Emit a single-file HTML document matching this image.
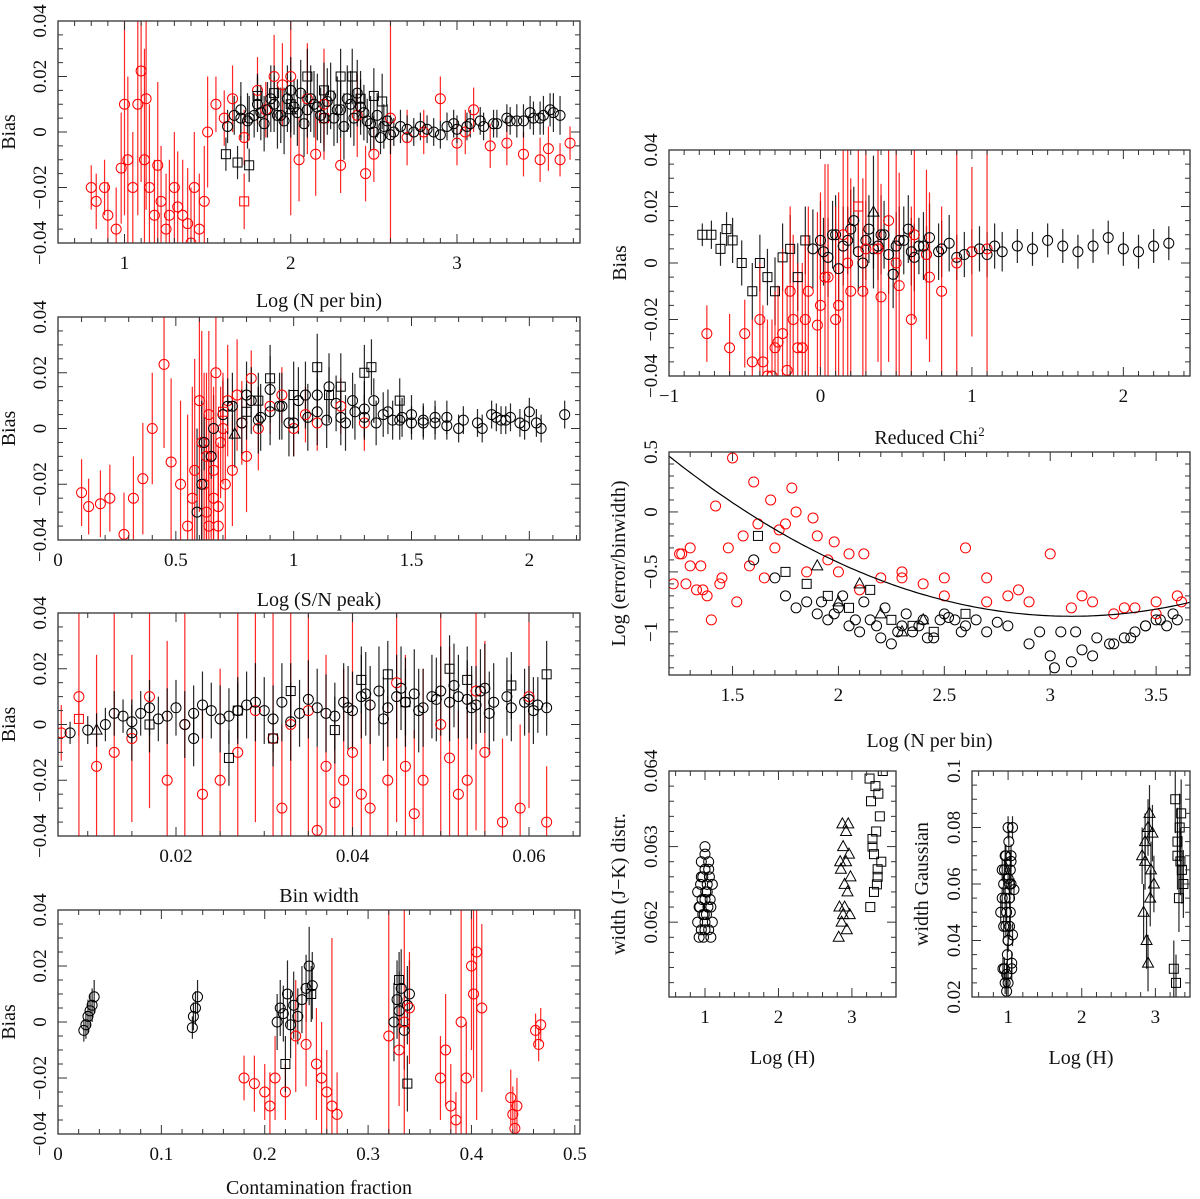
<!DOCTYPE html>
<html><head><meta charset="utf-8"><style>
html,body{margin:0;padding:0;background:#fff;width:1200px;height:1199px;overflow:hidden}
svg{display:block}
svg text{font-family:"Liberation Serif",serif;fill:#111}
</style></head><body>
<svg id="fig" width="1200" height="1199" xmlns="http://www.w3.org/2000/svg"></svg>
<script>
// ---------- DATA ----------
// panel 1: Bias vs Log(N per bin)
const p1x=[0.8,0.83,0.88,0.9,0.95,0.98,1.0,1.02,1.05,1.08,1.1,1.12,1.13,1.15,1.18,1.2,1.22,1.25,1.27,1.3,1.32,1.35,1.38,1.4,1.42,1.45,1.48,1.5,1.55,1.6,1.65,1.72,1.8,1.85,1.9,1.95,2.0,2.05,2.1,2.15,2.2,2.3,2.4,2.45,2.5,2.6,2.7,2.8,2.9,3.0,3.05,3.1,3.2,3.3,3.4,3.5,3.55,3.62,3.68,
1.62,1.66,1.7,1.75,1.78,1.82,1.86,1.9,1.94,1.98,2.02,2.06,2.1,2.14,2.18,2.22,2.26,2.3,2.34,2.38,2.42,2.46,2.5,2.54,2.58,2.62,2.7,2.78,2.86,2.94,3.0,3.08,3.16,3.24,3.32,3.4,3.46,3.52,3.58,3.62,
1.61,1.68,1.75,1.8,1.9,2.0,2.1,2.2,2.3,2.37,2.42,2.5,2.55,1.72,2.0,2.2];
const p1y=[-0.02,-0.025,-0.02,-0.03,-0.035,-0.013,0.01,-0.01,-0.02,0.01,0.022,-0.01,0.012,-0.02,-0.03,-0.012,-0.025,-0.035,-0.03,-0.02,-0.027,-0.03,-0.033,-0.04,-0.02,-0.035,-0.025,0.0,0.01,0.005,0.012,-0.002,0.015,0.008,0.02,0.017,0.02,-0.01,0.012,-0.008,0.01,-0.012,0.006,-0.015,-0.008,0.005,-0.002,0.0,0.012,-0.004,0.0,0.008,-0.005,-0.004,-0.008,-0.01,-0.006,-0.01,-0.004,
0.002,0.006,0.005,0.005,0.006,0.007,0.008,0.01,0.006,0.012,0.009,0.014,0.008,0.01,0.006,0.011,0.005,0.008,0.012,0.005,0.009,0.004,0.0,-0.002,0.004,0.0,0.001,0.002,0.0,0.002,0.001,0.003,0.002,0.003,0.004,0.004,0.005,0.006,0.007,0.006,
-0.008,-0.011,-0.012,0.013,0.014,0.01,0.02,0.015,0.02,0.02,0.012,0.013,0.011,-0.025,0.008,0.005];
const p1e=[0.008,0.01,0.01,0.012,0.015,0.02,0.04,0.03,0.02,0.04,0.04,0.04,0.04,0.03,0.02,0.03,0.02,0.02,0.02,0.02,0.02,0.02,0.02,0.02,0.02,0.02,0.02,0.02,0.01,0.01,0.012,0.01,0.012,0.01,0.015,0.015,0.05,0.015,0.02,0.015,0.02,0.01,0.015,0.01,0.01,0.05,0.01,0.008,0.008,0.008,0.008,0.008,0.008,0.008,0.008,0.008,0.008,0.006,0.006,
0.006,0.007,0.008,0.008,0.008,0.01,0.01,0.01,0.01,0.012,0.01,0.012,0.01,0.012,0.01,0.012,0.01,0.01,0.012,0.01,0.01,0.008,0.006,0.006,0.006,0.005,0.005,0.005,0.005,0.005,0.005,0.005,0.005,0.005,0.005,0.006,0.006,0.007,0.007,0.007,
0.006,0.006,0.006,0.008,0.01,0.01,0.01,0.01,0.01,0.01,0.01,0.01,0.01,0.01,0.01,0.01];
const p1s=("rc,".repeat(59)+"kc,".repeat(40)+"ks,".repeat(13)+"rs,kt,rs").split(",");
const p1xb=[1.7,1.74,1.8,1.84,1.88,1.92,1.96,2.0,2.04,2.08,2.12,2.16,2.2,2.24,2.28,2.32,2.36,2.4,2.44,2.48,2.52,2.56,2.6,2.66,2.74,2.82,2.9,2.98,3.06,3.14,3.22,3.3,3.36,3.44,3.5,3.56];
const p1yb=[0.008,0.004,0.01,0.003,0.012,0.006,0.004,0.015,0.007,0.003,0.012,0.009,0.005,0.013,0.008,0.002,0.01,0.014,0.007,0.003,0.006,0.002,-0.001,0.002,0.0,0.001,-0.001,0.003,0.002,0.004,0.003,0.005,0.004,0.007,0.005,0.008];
const p1eb=[0.01,0.01,0.01,0.01,0.012,0.012,0.012,0.012,0.012,0.012,0.012,0.012,0.012,0.012,0.012,0.012,0.012,0.012,0.01,0.01,0.008,0.008,0.007,0.006,0.005,0.005,0.005,0.005,0.005,0.005,0.005,0.005,0.006,0.006,0.006,0.006];
const p1sb=("kc,".repeat(35)+"kc").split(",");

// panel 2: Bias vs Log(S/N peak)
const p2x=[0.1,0.13,0.18,0.22,0.28,0.32,0.36,0.4,0.45,0.48,0.52,0.55,0.57,0.58,0.6,0.61,0.62,0.63,0.64,0.65,0.66,0.67,0.68,0.7,0.72,0.74,0.76,0.78,0.8,0.82,0.85,0.9,0.95,1.0,1.05,1.1,1.2,1.3,
0.62,0.66,0.7,0.74,0.78,0.82,0.86,0.9,0.94,0.98,1.02,1.06,1.1,1.14,1.18,1.22,1.26,1.3,1.34,1.38,1.42,1.46,1.5,1.55,1.6,1.65,1.7,1.78,1.84,1.88,1.92,1.96,2.0,2.05,2.15,
0.65,0.72,0.8,0.9,1.0,1.1,1.2,1.3,1.33,1.45,0.85,1.15];
const p2y=[-0.023,-0.028,-0.027,-0.025,-0.038,-0.025,-0.018,0.0,0.023,-0.012,-0.02,-0.035,-0.025,-0.015,0.01,-0.005,-0.02,-0.03,0.005,-0.01,-0.025,0.02,-0.035,0.0,0.01,-0.015,0.012,0.002,-0.01,0.018,0.0,0.008,0.012,0.0,0.005,0.002,0.008,0.002,
-0.005,0.0,0.005,0.008,0.002,0.01,0.004,0.006,0.008,0.002,0.01,0.004,0.012,0.003,0.009,0.002,0.006,0.004,0.01,0.005,0.003,0.004,0.002,0.003,0.002,0.004,0.0,0.002,0.005,0.003,0.004,0.002,0.006,0.0,0.005,
-0.01,0.008,0.006,0.018,0.012,0.022,0.015,0.02,0.022,0.01,0.01,0.012];
const p2e=[0.012,0.01,0.012,0.012,0.015,0.015,0.02,0.02,0.03,0.03,0.03,0.04,0.04,0.04,0.04,0.04,0.04,0.04,0.03,0.03,0.03,0.03,0.03,0.02,0.02,0.02,0.02,0.015,0.02,0.01,0.015,0.01,0.01,0.01,0.01,0.01,0.01,0.01,
0.01,0.012,0.012,0.012,0.012,0.012,0.012,0.012,0.012,0.012,0.012,0.012,0.012,0.01,0.01,0.01,0.01,0.008,0.008,0.008,0.007,0.007,0.006,0.006,0.006,0.006,0.005,0.005,0.005,0.005,0.005,0.005,0.005,0.005,0.005,
0.008,0.01,0.01,0.012,0.012,0.012,0.012,0.01,0.01,0.008,0.01,0.01];
const p2s=("rc,".repeat(38)+"kc,".repeat(37)+"ks,".repeat(10)+"rs,kt").split(",");
const p2xb=[0.7,0.75,0.8,0.85,0.9,0.95,1.0,1.05,1.1,1.15,1.2,1.25,1.3,1.35,1.4,1.45,1.5,1.55,1.6,1.65,1.72,1.8,1.86,1.9,1.98,2.03,0.59,0.61,0.63,0.64,0.66,0.68,0.69,0.71];
const p2yb=[0.006,-0.002,0.012,0.003,0.014,0.008,0.002,0.012,0.006,0.015,0.004,0.01,0.007,0.002,0.006,0.003,0.005,0.002,0.004,0.001,0.003,0.0,0.004,0.003,0.001,0.002,-0.03,-0.02,-0.01,-0.035,-0.015,-0.028,-0.005,-0.02];
const p2eb=[0.012,0.012,0.012,0.012,0.012,0.012,0.012,0.012,0.012,0.012,0.01,0.01,0.01,0.008,0.008,0.007,0.007,0.006,0.006,0.005,0.005,0.005,0.005,0.005,0.005,0.005,0.03,0.03,0.03,0.03,0.03,0.02,0.02,0.02];
const p2sb=("kc,".repeat(26)+"rc,".repeat(7)+"rc").split(",");

// panel 3: Bias vs Bin width
const p3x=[0.007,0.009,0.011,0.013,0.015,0.017,0.019,0.021,0.023,0.025,0.027,0.029,0.031,0.032,0.033,0.035,0.036,0.037,0.038,0.039,0.040,0.041,0.042,0.044,0.045,0.046,0.047,0.048,0.05,0.051,0.052,0.053,0.054,0.055,0.057,0.059,0.06,0.062,
0.008,0.01,0.012,0.014,0.016,0.018,0.02,0.022,0.024,0.026,0.028,0.03,0.031,0.032,0.034,0.036,0.038,0.039,0.04,0.041,0.042,0.043,0.044,0.045,0.046,0.047,0.048,0.049,0.05,0.051,0.052,0.053,0.054,0.055,0.056,0.058,0.06,0.061,0.062,
0.015,0.022,0.026,0.031,0.033,0.038,0.041,0.044,0.046,0.051,0.053,0.058,0.062,0.017,0.027];
const p3y=[-0.003,0.01,-0.015,-0.01,-0.005,0.01,-0.02,0.0,-0.025,-0.02,-0.01,0.005,-0.005,-0.03,0.0,0.005,-0.038,-0.015,-0.028,-0.02,-0.01,-0.025,-0.03,-0.02,0.015,-0.015,-0.032,-0.02,0.0,-0.012,-0.025,-0.02,0.012,-0.01,-0.035,-0.03,0.01,-0.035,
-0.003,-0.002,0.0,0.003,0.004,0.002,0.006,0.004,0.005,0.003,0.007,0.005,0.002,0.008,0.004,0.006,0.003,0.008,0.005,0.01,0.007,0.012,0.006,0.01,0.008,0.011,0.006,0.01,0.012,0.008,0.01,0.009,0.007,0.013,0.008,0.006,0.009,0.007,0.006,
-0.003,-0.005,-0.012,-0.005,0.012,-0.002,0.016,0.018,0.008,0.02,0.016,0.014,0.018,0.0,0.005];
const p3e=[0.01,0.05,0.04,0.05,0.03,0.04,0.05,0.04,0.03,0.04,0.05,0.04,0.05,0.03,0.04,0.05,0.03,0.04,0.03,0.04,0.05,0.03,0.04,0.03,0.05,0.04,0.03,0.04,0.05,0.04,0.03,0.04,0.05,0.04,0.03,0.03,0.04,0.02,
0.004,0.005,0.006,0.006,0.008,0.008,0.01,0.01,0.01,0.01,0.012,0.012,0.012,0.014,0.012,0.014,0.012,0.014,0.014,0.015,0.014,0.016,0.014,0.015,0.016,0.016,0.014,0.015,0.016,0.014,0.015,0.014,0.014,0.016,0.014,0.012,0.012,0.01,0.01,
0.01,0.01,0.01,0.01,0.01,0.012,0.012,0.012,0.012,0.012,0.012,0.012,0.012,0.01,0.01];
const p3s=("rc,".repeat(38)+"kc,".repeat(41)+"ks,".repeat(13)+"rs,kt").split(",");
const p3xb=[0.009,0.011,0.013,0.015,0.017,0.019,0.021,0.023,0.025,0.027,0.029,0.033,0.035,0.037,0.0395,0.0415,0.0435,0.0455,0.0475,0.0495,0.0515,0.0535,0.0545,0.0555,0.0575,0.0595,0.0605];
const p3yb=[0.002,-0.002,0.004,0.001,0.006,0.003,0.0,0.007,0.002,0.005,0.008,0.001,0.009,0.004,0.006,0.011,0.002,0.013,0.005,0.009,0.014,0.006,0.012,0.004,0.01,0.008,0.005];
const p3eb=[0.006,0.006,0.008,0.008,0.01,0.01,0.012,0.012,0.012,0.012,0.014,0.014,0.014,0.014,0.015,0.015,0.015,0.015,0.015,0.015,0.015,0.015,0.015,0.015,0.014,0.012,0.012];
const p3sb=("kc,".repeat(26)+"kc").split(",");

// panel 4: Bias vs Contamination fraction
const p4x=[0.025,0.027,0.029,0.031,0.033,0.035,0.13,0.131,0.133,0.135,0.212,0.215,0.218,0.222,0.225,0.228,0.232,0.236,0.24,0.243,0.246,0.325,0.328,0.33,0.332,0.335,0.338,0.34,
0.18,0.19,0.2,0.205,0.21,0.22,0.23,0.24,0.25,0.255,0.26,0.265,0.27,0.32,0.33,0.335,0.34,0.37,0.375,0.38,0.385,0.39,0.395,0.4,0.402,0.405,0.41,0.438,0.44,0.442,0.444,0.462,0.465,0.467,
0.22,0.245,0.33,0.338];
const p4y=[-0.003,-0.001,0.002,0.004,0.006,0.009,-0.002,0.002,0.005,0.009,0.0,0.005,0.003,0.01,-0.001,0.006,0.002,0.008,0.012,0.02,0.013,0.0,0.008,0.004,0.012,-0.003,0.006,0.01,
-0.02,-0.022,-0.025,-0.03,-0.02,-0.025,-0.005,-0.008,-0.015,-0.02,-0.025,-0.03,-0.033,-0.005,-0.01,0.0,0.005,-0.02,-0.01,-0.03,-0.035,0.0,-0.02,0.02,0.01,0.025,0.005,-0.027,-0.033,-0.038,-0.03,-0.003,-0.008,-0.001,
-0.015,0.01,0.015,-0.022];
const p4e=[0.004,0.005,0.006,0.006,0.006,0.006,0.004,0.005,0.006,0.006,0.01,0.01,0.01,0.012,0.012,0.012,0.01,0.012,0.012,0.014,0.012,0.014,0.014,0.014,0.014,0.014,0.014,0.012,
0.008,0.01,0.01,0.012,0.015,0.01,0.02,0.015,0.02,0.02,0.015,0.06,0.015,0.05,0.02,0.06,0.02,0.015,0.02,0.015,0.01,0.04,0.02,0.03,0.03,0.06,0.03,0.01,0.01,0.01,0.01,0.006,0.006,0.006,
0.01,0.01,0.01,0.01];
const p4s=("kc,".repeat(28)+"rc,".repeat(34)+"ks,ks,ks,ks").split(",");

// panel A: Bias vs Reduced Chi^2
const pAx=[-0.78,-0.72,-0.66,-0.62,-0.58,-0.52,-0.45,-0.4,-0.35,-0.3,-0.25,-0.2,-0.15,-0.1,
-0.05,0.0,0.05,0.1,0.15,0.2,0.25,0.3,0.35,0.4,0.45,0.5,0.55,0.6,0.65,0.7,0.8,0.9,1.0,1.1,1.2,1.3,1.4,1.5,1.6,1.7,1.8,1.9,2.0,2.1,2.2,2.3,
-0.75,-0.6,-0.5,-0.45,-0.4,-0.35,-0.3,-0.25,-0.2,-0.15,-0.1,0.0,0.05,0.1,0.15,0.2,0.3,0.4,0.45,0.5,0.6,0.7,0.8,0.9,1.0,1.1,0.25,0.35];
const pAy=[0.01,0.01,0.005,0.012,0.008,0.0,-0.01,0.0,-0.005,-0.01,0.002,0.005,-0.005,0.008,
0.005,0.008,0.002,0.01,0.006,0.012,0.004,0.008,0.005,0.01,0.003,0.006,0.008,0.004,0.006,0.003,0.005,0.002,0.004,0.003,0.004,0.006,0.005,0.008,0.006,0.004,0.006,0.009,0.005,0.004,0.006,0.007,
-0.025,-0.03,-0.025,-0.035,-0.02,-0.04,-0.03,-0.025,-0.01,-0.03,-0.02,-0.015,-0.005,-0.02,0.01,-0.01,0.005,-0.012,0.015,0.0,-0.02,0.003,-0.01,0.0,0.004,0.005,0.02,0.018];
const pAe=[0.004,0.005,0.006,0.006,0.008,0.008,0.01,0.01,0.01,0.012,0.012,0.012,0.012,0.012,
0.014,0.014,0.014,0.014,0.014,0.014,0.014,0.014,0.014,0.014,0.014,0.012,0.012,0.012,0.01,0.01,0.01,0.008,0.008,0.008,0.007,0.006,0.006,0.006,0.006,0.006,0.006,0.006,0.006,0.006,0.006,0.006,
0.01,0.012,0.012,0.015,0.02,0.02,0.02,0.03,0.03,0.03,0.03,0.04,0.04,0.04,0.05,0.04,0.05,0.04,0.05,0.04,0.04,0.03,0.03,0.05,0.03,0.05,0.02,0.02];
const pAs=("ks,".repeat(14)+"kc,".repeat(32)+"rc,".repeat(26)+"rs,kt").split(",");
const pAxb=[0.02,0.08,0.12,0.18,0.22,0.28,0.32,0.38,0.42,0.48,0.52,0.58,0.62,0.68,0.72,0.78,0.85,0.95,1.05,1.15,
-0.38,-0.32,-0.28,-0.22,-0.18,-0.12,-0.08,-0.02,0.03,0.12,0.18,0.28,0.38,0.52,0.62,0.72];
const pAyb=[0.004,0.01,-0.002,0.008,0.015,0.0,0.012,0.006,0.01,-0.004,0.008,0.012,0.002,0.006,0.009,0.004,0.007,0.003,0.005,0.006,
-0.035,-0.04,-0.028,-0.038,-0.02,-0.03,-0.01,-0.022,-0.005,-0.015,0.0,-0.01,0.005,-0.008,0.01,-0.005];
const pAeb=[0.012,0.012,0.012,0.012,0.012,0.012,0.012,0.012,0.012,0.012,0.012,0.012,0.012,0.012,0.012,0.01,0.01,0.008,0.008,0.008,
0.02,0.02,0.02,0.03,0.03,0.03,0.03,0.04,0.04,0.04,0.04,0.04,0.04,0.04,0.03,0.03];
const pAsb=("kc,".repeat(20)+"rc,".repeat(15)+"rc").split(",");

// panel B: Log(error/binwidth) vs Log(N per bin)
const pBx=[1.25,1.28,1.3,1.33,1.35,1.38,1.4,1.42,1.45,1.48,1.5,1.52,1.55,1.58,1.6,1.65,1.68,1.7,1.75,1.8,1.85,1.9,1.95,2.0,2.05,2.1,2.2,2.3,2.4,2.5,2.6,2.7,2.8,2.9,3.0,3.1,3.2,3.3,3.4,3.5,3.6,
1.6,1.7,1.75,1.8,1.85,1.9,1.95,2.0,2.05,2.1,2.15,2.2,2.25,2.3,2.35,2.4,2.45,2.5,2.55,2.6,2.7,2.8,2.9,2.95,3.0,3.05,3.1,3.15,3.2,3.3,3.35,3.4,3.45,3.5,3.55,3.6,
1.62,1.75,1.85,1.95,2.05,2.15,2.25,2.35,2.45,2.6,1.9,2.0,2.1,2.2,2.3,2.4,
1.92,1.98,2.02,2.08,2.12,2.18,2.22,2.28,2.32,2.38,2.42,2.48,2.52,2.58,2.65,2.75,3.02,3.12,3.22,3.28,3.38,3.45,3.52,3.58,
1.22,1.26,1.3,1.36,1.44,1.62,1.72,1.78,1.88,1.98,2.12,2.3,2.5,2.7,2.85,3.15,3.35,3.5,3.62];
const pBy=[-0.35,-0.6,-0.3,-0.65,-0.45,-0.7,-0.9,0.05,-0.55,-0.3,0.45,-0.75,-0.2,-0.45,0.25,-0.55,0.1,-0.3,-0.1,0.0,-0.5,-0.2,-0.4,-0.5,-0.35,-0.65,-0.55,-0.5,-0.6,-0.7,-0.3,-0.55,-0.7,-0.75,-0.35,-0.8,-0.75,-0.85,-0.8,-0.75,-0.7,
-0.4,-0.55,-0.7,-0.8,-0.75,-0.85,-0.9,-0.8,-0.95,-1.0,-0.9,-1.05,-1.1,-0.95,-1.0,-0.9,-1.05,-0.85,-0.9,-0.95,-1.0,-0.95,-1.1,-1.0,-1.2,-1.0,-1.25,-1.15,-1.2,-1.1,-1.05,-1.0,-0.95,-0.9,-0.95,-0.9,
-0.2,-0.5,-0.6,-0.7,-0.8,-0.65,-0.9,-0.95,-1.0,-0.85,-0.45,-0.75,-0.6,-0.85,-1.0,-0.9,
-0.75,-0.85,-0.7,-0.9,-0.75,-0.95,-0.8,-1.0,-0.85,-0.95,-1.05,-0.9,-0.88,-1.0,-0.9,-0.92,-1.3,-1.0,-1.05,-1.1,-1.05,-0.95,-0.9,-0.85,
-0.6,-0.35,-0.45,-0.65,-0.6,-0.1,-0.15,0.2,-0.05,-0.25,-0.35,-0.55,-0.55,-0.75,-0.65,-0.7,-0.8,-0.85,-0.75];
const pBs=("rc,".repeat(41)+"kc,".repeat(36)+"ks,".repeat(10)+"kt,".repeat(6)+"kc,".repeat(24)+"rc,".repeat(18)+"rc").split(",");
// fitted curve: y = a*(x-x0)^2 + c
const curveA=[0.37], curveX0=[3.1], curveC=[-0.87];

// panel C: width (J-K) distr vs Log(H)
const pCx=[0.92,0.95,0.98,1.0,1.02,1.05,1.08,0.93,0.96,0.99,1.01,1.04,1.07,0.94,0.97,1.0,1.03,1.06,0.95,1.0,1.05,1.0,0.9,1.1,0.92,1.08,0.97,1.03,0.9,1.1,0.95,1.05,1.0,1.0,
2.82,2.86,2.9,2.94,2.98,2.84,2.88,2.92,2.96,2.85,2.9,2.95,2.88,2.93,2.83,2.92,2.87,2.97,
3.25,3.3,3.35,3.4,3.28,3.33,3.38,3.26,3.32,3.36,3.3,3.35,3.42,3.24,3.28,3.34];
const pCy=[0.0618,0.0619,0.0618,0.062,0.0621,0.0619,0.0618,0.0622,0.0623,0.0621,0.0624,0.0622,0.0623,0.0625,0.0626,0.0627,0.0625,0.0626,0.0628,0.0629,0.0628,0.063,0.062,0.062,0.0622,0.0622,0.0621,0.0624,0.0624,0.0625,0.0626,0.0627,0.0623,0.0619,
0.0618,0.062,0.0622,0.0624,0.0626,0.0628,0.063,0.0632,0.0629,0.0627,0.0625,0.0633,0.0621,0.0619,0.0622,0.0628,0.0633,0.0621,
0.0622,0.0624,0.0626,0.0628,0.063,0.0632,0.0634,0.0636,0.0638,0.0637,0.0629,0.0627,0.064,0.0639,0.0631,0.0625];
const pCs=("kc,".repeat(34)+"kt,".repeat(18)+"ks,".repeat(15)+"ks").split(",");

// panel D: width Gaussian vs Log(H)
const pDx=[0.9,0.93,0.96,0.98,1.0,1.02,1.04,1.06,0.92,0.95,0.97,0.99,1.01,1.03,1.05,0.94,0.97,1.0,1.03,0.96,1.0,1.04,0.98,1.02,0.92,0.96,1.0,1.04,1.08,0.94,0.98,1.02,1.06,0.95,1.0,1.05,
2.82,2.86,2.9,2.94,2.98,2.84,2.88,2.92,2.96,2.9,2.86,2.93,
3.25,3.28,3.3,3.33,3.36,3.38,3.3,3.35,3.32,3.27,3.34];
const pDy=[0.05,0.03,0.025,0.022,0.04,0.06,0.07,0.08,0.055,0.065,0.045,0.035,0.075,0.05,0.03,0.06,0.07,0.04,0.065,0.055,0.08,0.06,0.028,0.045,0.065,0.07,0.062,0.068,0.058,0.045,0.05,0.055,0.042,0.03,0.025,0.032,
0.07,0.075,0.08,0.065,0.06,0.05,0.04,0.085,0.078,0.032,0.068,0.055,
0.03,0.025,0.07,0.08,0.065,0.06,0.075,0.085,0.055,0.09,0.068];
const pDe=[0.004,0.004,0.004,0.004,0.004,0.004,0.004,0.004,0.004,0.004,0.004,0.004,0.004,0.004,0.004,0.004,0.004,0.004,0.004,0.004,0.004,0.004,0.004,0.004,0.004,0.004,0.004,0.004,0.004,0.004,0.004,0.004,0.004,0.004,0.004,0.004,
0.01,0.01,0.01,0.01,0.01,0.01,0.01,0.01,0.01,0.01,0.01,0.01,
0.01,0.01,0.012,0.012,0.012,0.012,0.012,0.012,0.012,0.012,0.012];
const pDs=("kc,".repeat(36)+"kt,".repeat(12)+"ks,".repeat(10)+"ks").split(",");

// ---------- DRAW ----------
const NS="http://www.w3.org/2000/svg", fig=document.getElementById('fig');
function el(tag,attrs,parent){const e=document.createElementNS(NS,tag);for(const k in attrs)e.setAttribute(k,attrs[k]);(parent||fig).appendChild(e);return e;}

function panel(c){
  const g=el('g',{});
  
  
  const sx=v=>c.x0+(v-c.xmin)/(c.xmax-c.xmin)*(c.x1-c.x0);
  const sy=v=>c.y1-(v-c.ymin)/(c.ymax-c.ymin)*(c.y1-c.y0);
  const sty=i=>(c.s[i]&&c.s[i].length===2)?c.s[i]:'kc';
  const clip='clip'+c.name;
  const cp=el('clipPath',{id:clip},g);el('rect',{x:c.x0,y:c.y0,width:c.x1-c.x0,height:c.y1-c.y0},cp);
  const dg=el('g',{'clip-path':'url(#'+clip+')'},g);
  
  
  if(c.e){for(let i=0;i<c.xs.length;i++){if(c.e[i]===undefined)continue;const col=sty(i)[0]==='r'?'#f00':'#000';
    const ln=el('line',{x1:sx(c.xs[i]),x2:sx(c.xs[i]),y1:sy(c.ys[i]-c.e[i]),y2:sy(c.ys[i]+c.e[i]),stroke:col,'stroke-width':1.2,'stroke-opacity':0.85},dg);
    
    }}
  for(let i=0;i<c.xs.length;i++){const st=sty(i),col=st[0]==='r'?'#f00':'#000',X=sx(c.xs[i]),Y=sy(c.ys[i]);let m;
    if(st[1]==='c')m=el('circle',{cx:X,cy:Y,r:5,fill:'none',stroke:col,'stroke-width':1},dg);
    else if(st[1]==='s')m=el('rect',{x:X-4.5,y:Y-4.5,width:9,height:9,fill:'none',stroke:col,'stroke-width':1},dg);
    else m=el('polygon',{points:`${X},${Y-6} ${X-5.5},${Y+4} ${X+5.5},${Y+4}`,fill:'none',stroke:col,'stroke-width':1},dg);
    
    }
  if(c.curve){let d='';for(let v=c.xmin;v<=c.xmax+1e-9;v+=0.02){d+=(d?'L':'M')+sx(v).toFixed(1)+','+sy(curveA[0]*(v-curveX0[0])**2+curveC[0]).toFixed(1);}
    const p=el('path',{d,fill:'none',stroke:'#000','stroke-width':1.2},dg);
    
    }
  const fr=el('rect',{x:c.x0,y:c.y0,width:c.x1-c.x0,height:c.y1-c.y0,fill:'none',stroke:'#333','stroke-width':1.3},g);
  
  
  const xstart=Math.ceil(c.xmin/c.xminor-1e-6)*c.xminor;
  for(let v=xstart;v<=c.xmax+1e-9;v+=c.xminor){const X=sx(v);const maj=Math.abs(v/c.xmajor-Math.round(v/c.xmajor))<1e-4;const L=maj?9:5;
    el('line',{x1:X,x2:X,y1:c.y1,y2:c.y1-L,stroke:'#333'},g);el('line',{x1:X,x2:X,y1:c.y0,y2:c.y0+L,stroke:'#333'},g);}
  c.xt.forEach(v=>{const t=el('text',{x:sx(v),y:c.y1+26,'text-anchor':'middle','font-size':19},g);t.textContent=String(v).replace('-','\u2212');
    
    });
  const ystart=Math.ceil(c.ymin/c.yminor-1e-6)*c.yminor;
  for(let v=ystart;v<=c.ymax+1e-9;v+=c.yminor){const Y=sy(v);const maj=Math.abs(v/c.ymajor-Math.round(v/c.ymajor))<1e-4;const L=maj?9:5;
    el('line',{x1:c.x0,x2:c.x0+L,y1:Y,y2:Y,stroke:'#333'},g);el('line',{x1:c.x1,x2:c.x1-L,y1:Y,y2:Y,stroke:'#333'},g);}
  c.yt.forEach(v=>{const Y=sy(v);const t=el('text',{x:c.x0-12,y:Y,'text-anchor':'middle','font-size':19,transform:`rotate(-90 ${c.x0-12} ${Y})`},g);
    t.textContent=String(v).replace('-','\u2212');
    
    });
  const xl=el('text',{x:(c.x0+c.x1)/2,y:c.y1+c.xly,'text-anchor':'middle','font-size':20},g);xl.innerHTML=c.xl;
  
  
  const yx=c.x0-c.ylx,yy=(c.y0+c.y1)/2;
  const yl=el('text',{x:yx,y:yy,'text-anchor':'middle','font-size':20,transform:`rotate(-90 ${yx} ${yy})`},g);yl.textContent=c.yl;
  
  
}
const bias={ymin:-0.04,ymax:0.04,ymajor:0.02,yminor:0.005,yt:[-0.04,-0.02,0,0.02,0.04],yl:'Bias',ylx:43};
panel(Object.assign({name:'panel-log-n',x0:58,x1:580,y0:21,y1:243,xmin:0.6,xmax:3.74,xmajor:1,xminor:0.1,xt:[1,2,3],xl:'Log (N per bin)',xly:64,
  xs:p1x.concat(p1xb),ys:p1y.concat(p1yb),e:p1e.concat(p1eb),s:p1s.concat(p1sb)},bias));
panel(Object.assign({name:'panel-log-sn',x0:58,x1:580,y0:317,y1:540,xmin:0,xmax:2.215,xmajor:0.5,xminor:0.1,xt:[0,0.5,1,1.5,2],xl:'Log (S/N peak)',xly:66,
  xs:p2x.concat(p2xb),ys:p2y.concat(p2yb),e:p2e.concat(p2eb),s:p2s.concat(p2sb)},bias));
panel(Object.assign({name:'panel-bin-width',x0:58,x1:580,y0:613,y1:836,xmin:0.00663,xmax:0.06578,xmajor:0.02,xminor:0.005,xt:[0.02,0.04,0.06],xl:'Bin width',xly:66,
  xs:p3x.concat(p3xb),ys:p3y.concat(p3yb),e:p3e.concat(p3eb),s:p3s.concat(p3sb)},bias));
panel(Object.assign({name:'panel-contamination',x0:58,x1:580,y0:910,y1:1134,xmin:0,xmax:0.505,xmajor:0.1,xminor:0.02,xt:[0,0.1,0.2,0.3,0.4,0.5],xl:'Contamination fraction',xly:60,xs:p4x,ys:p4y,e:p4e,s:p4s},bias));
panel(Object.assign({name:'panel-chi2',x0:669,x1:1190,y0:150,y1:376,xmin:-1,xmax:2.44,xmajor:1,xminor:0.1,xt:[-1,0,1,2],xl:'Reduced Chi<tspan font-size="13" dy="-8">2</tspan>',xly:68,
  xs:pAx.concat(pAxb),ys:pAy.concat(pAyb),e:pAe.concat(pAeb),s:pAs.concat(pAsb)},bias));
panel({name:'panel-error-binwidth',x0:669,x1:1190,y0:452,y1:675,xmin:1.2,xmax:3.66,xmajor:0.5,xminor:0.1,xt:[1.5,2,2.5,3,3.5],xl:'Log (N per bin)',xly:72,
  ymin:-1.36,ymax:0.5,ymajor:0.5,yminor:0.1,yt:[-1,-0.5,0,0.5],yl:'Log (error/binwidth)',ylx:44,xs:pBx,ys:pBy,s:pBs,curve:true});
panel({name:'panel-width-jk',x0:669,x1:896,y0:771,y1:997,xmin:0.51,xmax:3.6,xmajor:1,xminor:0.2,xt:[1,2,3],xl:'Log (H)',xly:67,
  ymin:0.06101,ymax:0.064,ymajor:0.001,yminor:0.0002,yt:[0.062,0.063,0.064],yl:'width (J\u2212K) distr.',ylx:44,xs:pCx,ys:pCy,s:pCs});
panel({name:'panel-width-gauss',x0:972,x1:1190,y0:771,y1:997,xmin:0.51,xmax:3.47,xmajor:1,xminor:0.2,xt:[1,2,3],xl:'Log (H)',xly:67,
  ymin:0.02,ymax:0.1,ymajor:0.02,yminor:0.005,yt:[0.02,0.04,0.06,0.08,0.1],yl:'width Gaussian',ylx:44,xs:pDx,ys:pDy,e:pDe,s:pDs});
</script>
</body></html>
